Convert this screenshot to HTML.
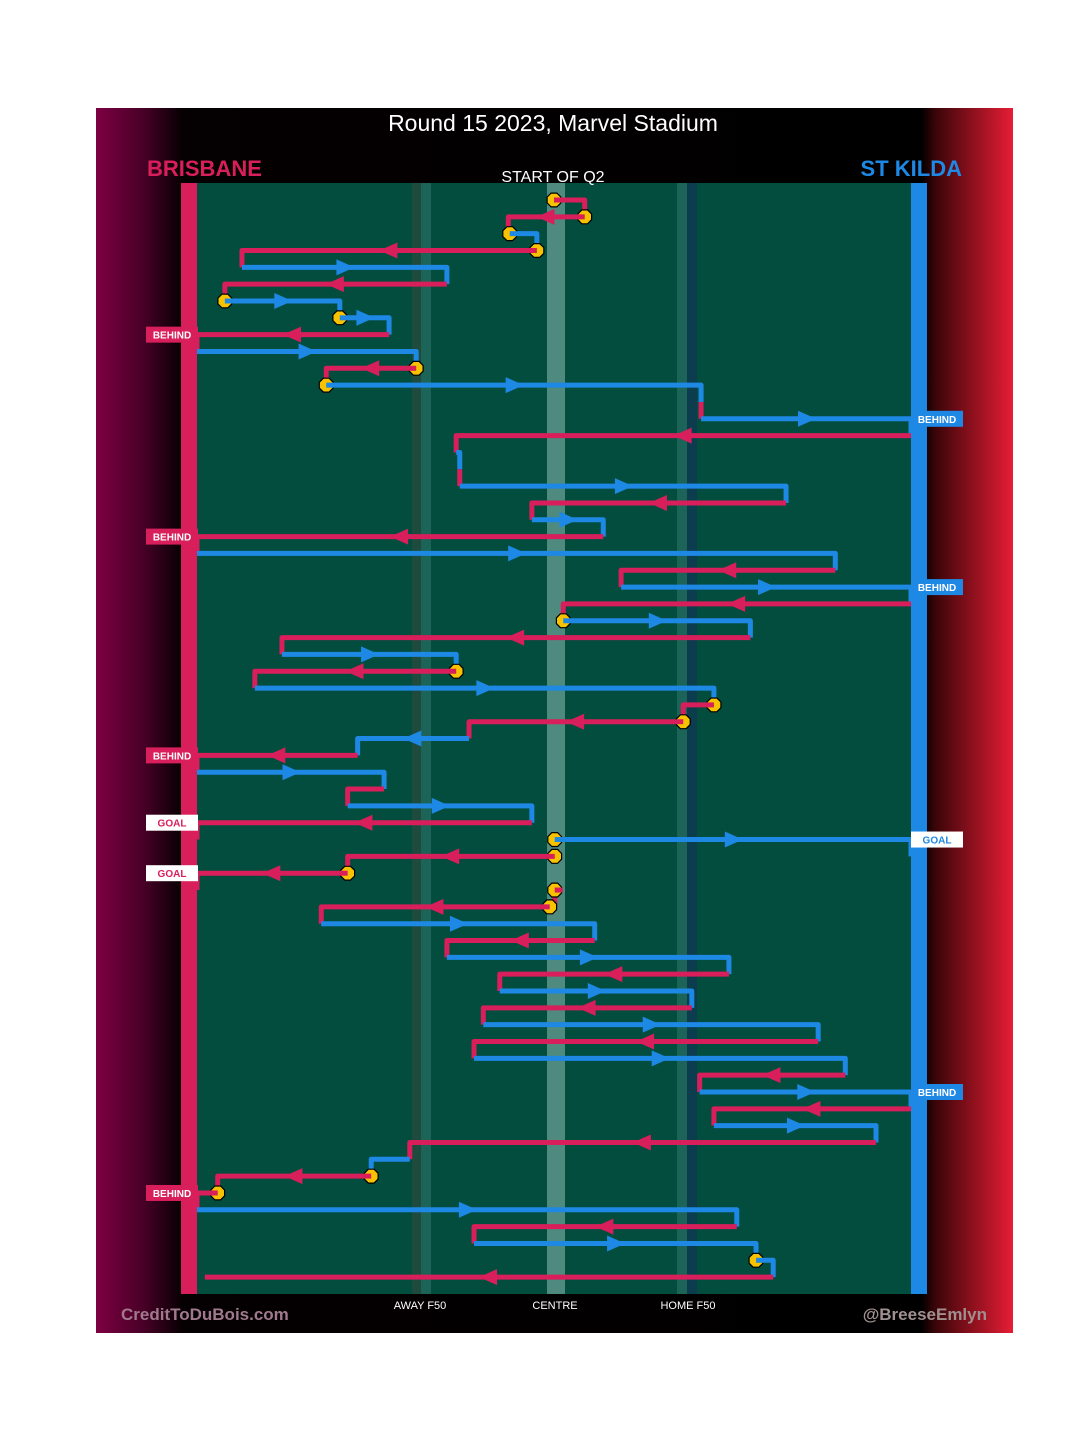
<!DOCTYPE html>
<html><head><meta charset="utf-8"><style>
html,body{margin:0;padding:0;background:#fff;}
svg{display:block;font-family:"Liberation Sans",sans-serif;}
</style></head><body>
<svg id="chart" width="1080" height="1455" viewBox="0 0 1080 1455">
<defs>
<linearGradient id="lg" gradientUnits="userSpaceOnUse" x1="96" x2="1013" y1="0" y2="0"><stop offset="0" stop-color="#7d0043"/><stop offset="0.05" stop-color="#4a0028"/><stop offset="0.095" stop-color="#050002"/><stop offset="0.9" stop-color="#000"/><stop offset="0.915" stop-color="#3a0508"/><stop offset="1" stop-color="#e61d35"/></linearGradient>
</defs>
<rect x="96" y="108" width="917" height="1225" fill="url(#lg)"/>
<rect x="181" y="183" width="746" height="1111" fill="#034d3e"/>
<rect x="412" y="183" width="9" height="1111" fill="#1f4a3e"/>
<rect x="421" y="183" width="10" height="1111" fill="#1d6458"/>
<rect x="547" y="183" width="18" height="1111" fill="#4e8a7e"/>
<rect x="677" y="183" width="10" height="1111" fill="#1d6458"/>
<rect x="687" y="183" width="10" height="1111" fill="#0b3d4f"/>
<rect x="181" y="183" width="16" height="1111" fill="#d81e5b"/>
<rect x="911" y="183" width="16" height="1111" fill="#1e88e5"/>
<text x="553" y="131" fill="#fff" font-size="23" text-anchor="middle">Round 15 2023, Marvel Stadium</text>
<text x="147" y="176" fill="#d81e5b" font-size="22" font-weight="bold">BRISBANE</text>
<text x="962" y="176" fill="#1e88e5" font-size="22" font-weight="bold" text-anchor="end">ST KILDA</text>
<text x="553" y="182" fill="#fff" font-size="16" text-anchor="middle">START OF Q2</text>
<text x="420" y="1309" fill="#fff" font-size="11" text-anchor="middle">AWAY F50</text>
<text x="555" y="1309" fill="#fff" font-size="11" text-anchor="middle">CENTRE</text>
<text x="688" y="1309" fill="#fff" font-size="11" text-anchor="middle">HOME F50</text>
<text x="121" y="1320" fill="#a07a8c" font-size="17" font-weight="bold">CreditToDuBois.com</text>
<text x="987" y="1320" fill="#a09090" font-size="17" font-weight="bold" text-anchor="end">@BreeseEmlyn</text>
<g id="marks"></g>
</svg>
<script>
// team per row: B = Brisbane, S = St Kilda
const teams = ["B","B","S","B","S","B","S","S","B","S","B","S","B","S","B","S","B","S","B","S","B","S","B","S","B","S","B","S","B","S","B","B","S","B","S","B","S","B","S","B","B","B","B","S","B","S","B","S","B","S","B","S","B","S","B","S","B","S","B","B","S","B","S","S","B"];
const startPos = [50,54.3,43.8,47.6,6.3,35,3.9,20,26.9,0,30.7,18.1,70.6,70.6,100,36.3,36.8,36.8,82.5,46.9,56.9,0,89.4,59.4,100,51.3,77.5,11.9,36.3,8.1,72.4,68.1,38.1,22.5,0,26.2,21.1,46.9,50.1,50.1,21.1,50.1,49.4,17.4,55.7,35,74.5,42.4,69.3,40.1,87,38.8,90.8,70.4,100,72.4,95.1,29.8,24.4,2.9,0,75.6,38.8,78.3,80.7];
const endPos = [54.3,43.6,47.6,6.3,35,3.9,20,26.9,0,30.7,18.1,70.6,70.6,100,36.3,36.8,36.8,82.5,46.9,56.9,0,89.4,59.4,100,51.3,77.5,11.9,36.3,8.1,72.4,68.1,38.1,22.5,0,26.2,21.1,46.9,0,100,21.1,0,50.1,17.4,55.7,35,74.5,42.4,69.3,40.1,87,38.8,90.8,70.4,100,72.4,95.1,29.8,24.4,2.9,0,75.6,38.8,78.3,80.7,1.1];
const stoppageRows = [0,1,2,3,6,7,10,11,25,28,30,31,38,39,40,41,42,58,59,63];
const outcomeRows = [8,13,20,23,33,37,38,40,53,59];
const outcomeText = ["BEHIND","BEHIND","BEHIND","BEHIND","BEHIND","GOAL","GOAL","GOAL","BEHIND","BEHIND"];

const NS="http://www.w3.org/2000/svg";
const g=document.getElementById('marks');
const xs=v=>197+v*7.14;
const ys=i=>200+i*16.83;
const col=t=>t==="B"?"#d81e5b":"#1e88e5";
const lines=[],arrows=[];
for(let i=0;i<teams.length;i++){
  const c=col(teams[i]),y=ys(i),x1=xs(startPos[i]),x2=xs(endPos[i]);
  let d=`M${x1},${y} L${x2},${y}`;
  if(i<teams.length-1) d+=` L${x2},${ys(i+1)}`;
  const p=document.createElementNS(NS,'path');
  p.setAttribute('d',d);p.setAttribute('stroke',c);p.setAttribute('stroke-width','5');p.setAttribute('fill','none');p.setAttribute('stroke-linejoin','round');
  
  
  lines.push(p);
  if(Math.abs(x2-x1)>40){
    const m=(x1+x2)/2,dir=x2>x1?1:-1;
    const a=document.createElementNS(NS,'polygon');
    a.setAttribute('points',`${m+dir*10},${y} ${m-dir*8},${y-8} ${m-dir*8},${y+8}`);
    a.setAttribute('fill',c);
    
    
    arrows.push(a);
  }
}
lines.forEach(e=>g.appendChild(e));
arrows.forEach(e=>g.appendChild(e));
stoppageRows.forEach(i=>{
  const cx=xs(startPos[i]),cy=ys(i),r=7.5;let pts=[];
  for(let k=0;k<8;k++){const a=Math.PI/8+k*Math.PI/4;pts.push((cx+r*Math.cos(a)).toFixed(1)+','+(cy+r*Math.sin(a)).toFixed(1));}
  const o=document.createElementNS(NS,'polygon');
  o.setAttribute('points',pts.join(' '));o.setAttribute('fill','#f7c200');o.setAttribute('stroke','#000');o.setAttribute('stroke-width','1.2');
  
  
  g.appendChild(o);
  const s=document.createElementNS(NS,'line');
  const dir=endPos[i]>=startPos[i]?1:-1;
  s.setAttribute('x1',cx);s.setAttribute('y1',cy);s.setAttribute('x2',cx+dir*8);s.setAttribute('y2',cy);
  s.setAttribute('stroke',col(teams[i]));s.setAttribute('stroke-width','5');
  
  
  g.appendChild(s);
});
outcomeRows.forEach((i,k)=>{
  const left=endPos[i]<50,y=ys(i),isGoal=outcomeText[k]==="GOAL";
  const bx=left?146:911,c=col(teams[i]);
  const r=document.createElementNS(NS,'rect');
  r.setAttribute('x',bx);r.setAttribute('y',y-8);r.setAttribute('width',52);r.setAttribute('height',16);
  r.setAttribute('fill',isGoal?'#fff':c);
  
  
  g.appendChild(r);
  const t=document.createElementNS(NS,'text');
  t.setAttribute('x',bx+26);t.setAttribute('y',y+4);t.setAttribute('text-anchor','middle');
  t.setAttribute('font-size','10');t.setAttribute('font-weight','bold');t.setAttribute('fill',isGoal?c:'#fff');
  t.textContent=outcomeText[k];
  
  
  g.appendChild(t);
});
</script>
</body></html>
